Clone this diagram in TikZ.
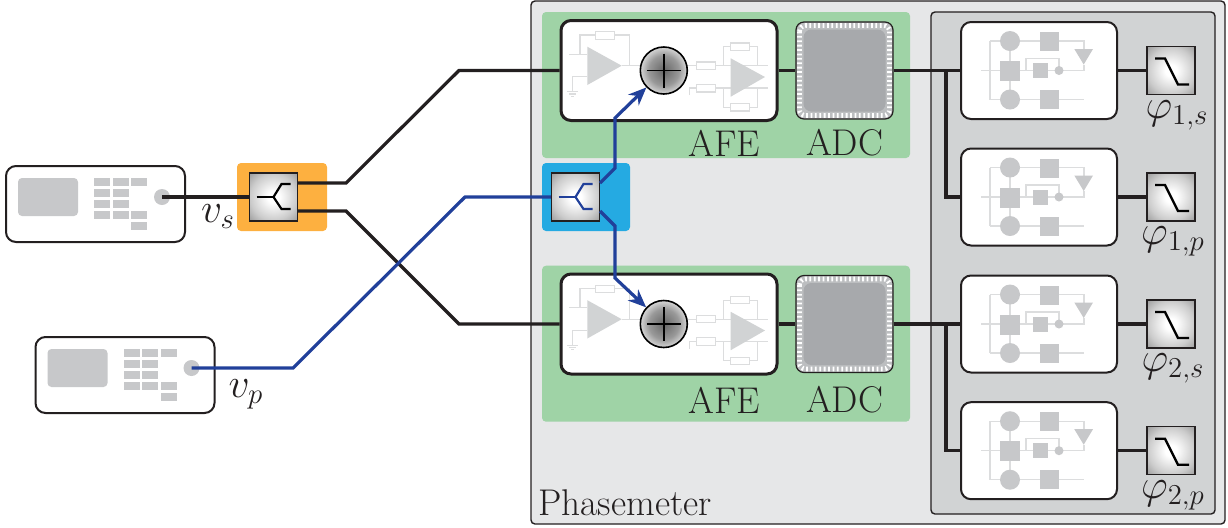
\documentclass[tikz,border=0pt]{standalone}
\usetikzlibrary{arrows.meta}

\definecolor{wirecol}{HTML}{231F20}
\definecolor{bluewire}{HTML}{21409A}
\definecolor{orangebg}{HTML}{FDB040}
\definecolor{bluebg}{HTML}{25AAE2}
\definecolor{greenbg}{HTML}{9FD3A6}
\definecolor{metercol}{HTML}{E6E7E8}
\definecolor{panelcol}{HTML}{D1D3D4}
\definecolor{iconcol}{HTML}{C7C8CA}
\definecolor{faintcol}{HTML}{DCDDDE}
\definecolor{ringcol}{HTML}{BCBEC0}
\definecolor{corecol}{HTML}{A7A9AC}

\pgfdeclareradialshading{softbox}{\pgfpoint{0bp}{0bp}}{color(0bp)=(white); color(6bp)=(white); color(24bp)=(black!20); color(35bp)=(black!38); color(50bp)=(black!60)}
\pgfdeclareradialshading{softsum}{\pgfpoint{0bp}{0bp}}{color(0bp)=(black!60); color(16bp)=(black!40); color(31bp)=(white); color(50bp)=(white)}

\newcommand{\bigtext}{\fontsize{18.6}{22}\selectfont}

\tikzset{
    wire/.style={line width=1.6pt, draw=wirecol},
    bluepath/.style={line width=1.6pt, draw=bluewire},
    arrowpath/.style={bluepath, -{Stealth[length=9pt, width=7.5pt]}},
    whitebox/.style={draw=wirecol, fill=white, rounded corners=5pt, inner sep=0pt},
    shadebox/.style={draw=wirecol, line width=0.6pt, shade, shading=softbox, minimum size=24pt, inner sep=0pt},
    bgbox/.style={rounded corners=2pt, inner sep=0pt},
    icon/.style={fill=iconcol},
    faint/.style={draw=faintcol, line width=0.6pt},
    faintres/.style={draw=faintcol, line width=0.6pt, fill=white},
    label/.style={inner sep=0pt, text=wirecol},
}

\begin{document}
\begin{tikzpicture}[x=0.5pt, y=-0.5pt]
        \useasboundingbox (0, 0) rectangle (1228, 527);

        % phasemeter background
        \node[bgbox, draw=wirecol, fill=metercol, line width=0.7pt, minimum width=347pt, minimum height=261.5pt] (meter) at (878, 262.5) {};
        \node[bgbox, draw=wirecol, fill=panelcol, line width=0.7pt, minimum width=142pt, minimum height=251pt] (panel) at (1073, 263) {};
        \node[bgbox, fill=greenbg, minimum width=184pt, minimum height=73pt] (greena) at (726, 85) {};
        \node[bgbox, fill=greenbg, minimum width=184pt, minimum height=78pt] (greenb) at (726, 343.7) {};
        \node[bgbox, fill=orangebg, minimum width=45pt, minimum height=34pt] (orange) at (282, 197) {};
        \node[bgbox, fill=bluebg, minimum width=44pt, minimum height=34pt] (cyan) at (586, 197) {};

        % signal generators
        \foreach \gx/\gy/\gname in {95.5/204/s, 125/375/p} {
            \node[whitebox, line width=1pt, minimum width=89.5pt, minimum height=38pt] (gen\gname) at (\gx, \gy) {};
            \begin{scope}[shift={(\gx, \gy)}]
                \fill[icon, rounded corners=2pt] (-77.5, -26) rectangle (-17.5, 12);
                \foreach \bx/\by in {0/0, 1/0, 2/0, 0/1, 1/1, 0/2, 1/2, 0/3, 1/3, 2/3, 2/4} {
                    \fill[icon] (-1.5+\bx*18.7, -26+\by*11) rectangle (14.5+\bx*18.7, -18+\by*11);
                }
                \node[icon, circle, minimum size=8pt, inner sep=0pt] (port\gname) at (66.5, -7) {};
            \end{scope}
        }

        % wires
        \coordinate (splita) at (298, 183);
        \coordinate (splitb) at (298, 211);
        \coordinate (cyana) at (600, 183);
        \coordinate (cyanb) at (600, 211);
        \foreach \i/\ay in {1/0, 2/253.5} {
            \node[whitebox, line width=1.5pt, minimum width=108pt, minimum height=50pt] (afe\i) at (669, 70.5+\ay) {};
            \node[whitebox, line width=0.6pt, rounded corners=4pt, fill=ringcol, minimum size=48.5pt] (adc\i) at (844.5, 70.5+\ay) {};
            \draw[white, line width=2.3pt, dash pattern=on 0.9pt off 1.3pt, rounded corners=3pt] (799.5, 25.5+\ay) rectangle (889.5, 115.5+\ay);
            \node[bgbox, fill=corecol, rounded corners=4pt, minimum size=41pt] (core\i) at (844.5, 70.5+\ay) {};
            \begin{scope}[shift={(0, \ay)}]
                \fill[panelcol] (587.3, 46.7) -- (587.3, 85) -- (621.7, 65.7) -- cycle;
                \draw[faint] (569, 54.3) -- (587.3, 54.3);
                \draw[faint] (580, 54.3) -- (580, 35) -- (595.7, 35);
                \draw[faint] (614.3, 35) -- (629.5, 35) -- (629.5, 65.7);
                \draw[faint] (621.7, 65.7) -- (640, 65.7);
                \draw[faintres] (595.7, 31.7) rectangle (614.3, 39.3);
                \draw[faint] (587.3, 76.7) -- (572.3, 76.7) -- (572.3, 91.7);
                \draw[faint] (567.3, 91.7) -- (577.7, 91.7);
                \draw[faint] (569.3, 94) -- (575.7, 94);
                \draw[faint] (571, 96.3) -- (574, 96.3);
                \draw[faint] (687.7, 65.7) -- (768.3, 65.7);
                \draw[faint] (689.7, 95) -- (689.7, 88) -- (768.3, 88);
                \draw[faint] (723.3, 65.7) -- (723.3, 46.7) -- (757.3, 46.7) -- (757.3, 65.7);
                \draw[faint] (723.3, 88) -- (723.3, 107.3) -- (757.3, 107.3) -- (757.3, 88);
                \draw[faintres] (696.7, 62) rectangle (715.7, 69.3);
                \draw[faintres] (696.7, 84.3) rectangle (715.7, 92);
                \draw[faintres] (730.7, 43) rectangle (749.7, 50.3);
                \draw[faintres] (730.7, 103.7) rectangle (749.7, 111);
                \fill[panelcol] (730.7, 58.3) -- (730.7, 96.7) -- (765, 77) -- cycle;
            \end{scope}
            \node[circle, draw=black, line width=0.8pt, shade, shading=softsum, minimum size=23.5pt, inner sep=0pt] (sum\i) at (663.8, 70.5+\ay) {};
            \draw[black, line width=0.9pt] (646.8, 70.5+\ay) -- (680.8, 70.5+\ay);
            \draw[black, line width=0.9pt] (663.8, 53.5+\ay) -- (663.8, 87.5+\ay);
            \draw[wire] (afe\i.east) -- (adc\i.west);
        }

        \foreach \pllname/\py/\phi/\lx/\ly in {a/70.5/{1,s}/1177/115, b/197/{1,p}/1173/241.5, c/324/{2,s}/1173/368.5, d/450.7/{2,p}/1173/495} {
            \node[whitebox, line width=1pt, minimum width=78pt, minimum height=48.5pt] (pll\pllname) at (1039, \py) {};
            \begin{scope}[shift={(1039, \py)}]
                \draw[faint] (-58, 0) -- (-39, 0);
                \draw[faint] (-49, -29.5) -- (-49, 29);
                \draw[faint] (-49, -29.5) -- (45, -29.5) -- (45, -21.5);
                \draw[faint] (45, -6) -- (45, 0) -- (-19, 0);
                \draw[faint] (-13, 0) -- (-13, -12) -- (20, -12) -- (20, 0);
                \draw[faint] (-49, 29) -- (45, 29);
                \draw[faint] (-29, -29) -- (-29, 29);
                \fill[icon] (-29, -29.5) circle (10);
                \fill[icon] (-29, 29) circle (10);
                \fill[icon] (20, 0) circle (4.5);
                \fill[icon] (1, -38.5) rectangle (20, -19.5);
                \fill[icon] (-39, -9.5) rectangle (-19, 10.5);
                \fill[icon] (-6, -7.5) rectangle (9, 7.5);
                \fill[icon] (1, 19.5) rectangle (20, 38.5);
                \fill[icon] (35.3, -21.5) -- (54, -21.5) -- (44.7, -6) -- cycle;
            \end{scope}
            \node[shadebox] (lpf\pllname) at (1171, \py) {};
            \draw[black, line width=1.2pt] (1155, \py-12) -- (1165, \py-12) -- (1178, \py+14) -- (1189, \py+14);
            \draw[wire] (pll\pllname.east) -- (lpf\pllname.west);
            \node[label] (phi\pllname) at (\lx, \ly) {\huge $\varphi_{\phi}$};
        }

        \draw[wire] (adc1.east) -- (plla.west);
        \draw[wire] (946, 70.5) -- (946, 197) -- (pllb.west);
        \draw[wire] (adc2.east) -- (pllc.west);
        \draw[wire] (946, 324) -- (946, 450.7) -- (plld.west);

        \draw[wire] (ports.center) -- (orange.center);
        \draw[wire] (splita) -- (346, 183) -- (459, 70.5) -- (afe1.west);
        \draw[wire] (splitb) -- (346, 211) -- (459, 324) -- (afe2.west);
        \draw[bluepath] (portp.center) -- (293, 368) -- (465, 197) -- (cyan.center);

        % splitters
        \foreach \sname/\sx/\scol in {s/273.5/black, c/575.5/bluewire} {
            \node[shadebox] (split\sname) at (\sx, 197) {};
            \draw[\scol, line width=1.1pt] (\sx-17, 197) -- (\sx, 197);
            \draw[\scol, line width=1.1pt] (\sx+17, 184) -- (\sx+8, 184) -- (\sx, 197) -- (\sx+8, 209) -- (\sx+17, 209);
        }

        \draw[arrowpath] (cyana) -- (615, 168) -- (615, 118) -- (sum1);
        \draw[arrowpath] (cyanb) -- (615, 226) -- (615, 278) -- (sum2);

        % labels
        \node[label] (vs) at (218, 216.5) {\huge $v_s$};
        \node[label] (vp) at (246, 394) {\huge $v_p$};
        \node[label] (afelabela) at (724.5, 143) {\bigtext AFE};
        \node[label] (adclabela) at (844.5, 143) {\bigtext ADC};
        \node[label] (afelabelb) at (724.5, 400) {\bigtext AFE};
        \node[label] (adclabelb) at (844.5, 400) {\bigtext ADC};
        \node[label, anchor=west] (metername) at (538, 503) {\bigtext Phasemeter};
    \end{tikzpicture}
\end{document}
